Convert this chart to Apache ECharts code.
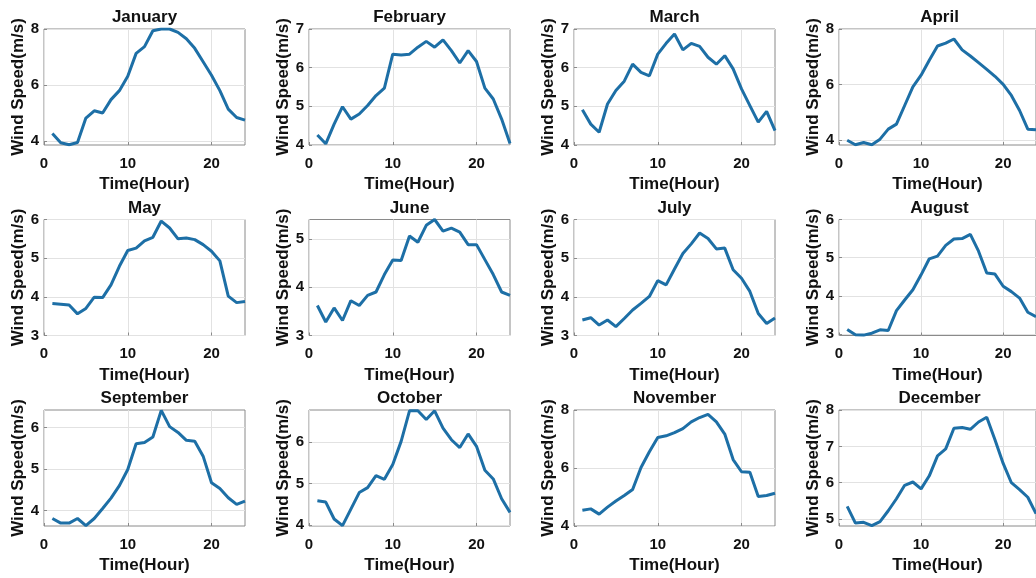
<!DOCTYPE html>
<html>
<head>
<meta charset="utf-8">
<title>Hourly wind speed by month</title>
<script src="https://cdn.jsdelivr.net/npm/echarts@6/dist/echarts.min.js"></script>
<style>
  html, body { margin: 0; padding: 0; background: #fff; }
  #chart { width: 1036px; height: 578px; }
</style>
</head>
<body>
<div id="chart"></div>
<script>
const hours = [1, 2, 3, 4, 5, 6, 7, 8, 9, 10, 11, 12, 13, 14, 15, 16, 17, 18, 19, 20, 21, 22, 23, 24];
const months = ['January', 'February', 'March', 'April', 'May', 'June',
  'July', 'August', 'September', 'October', 'November', 'December'];

// hourly mean wind speed (m/s)
const jan = [4.27, 3.94, 3.87, 3.95, 4.82, 5.08, 5.00, 5.48, 5.80, 6.31, 7.13, 7.37, 7.94, 8.00, 8.00, 7.88, 7.65, 7.31, 6.83, 6.35, 5.80, 5.14, 4.84, 4.75];
const feb = [4.26, 4.03, 4.54, 4.99, 4.67, 4.80, 5.02, 5.28, 5.47, 6.35, 6.33, 6.35, 6.53, 6.68, 6.53, 6.72, 6.44, 6.12, 6.44, 6.16, 5.47, 5.19, 4.67, 4.04];
const mar = [4.91, 4.54, 4.33, 5.06, 5.41, 5.65, 6.09, 5.88, 5.79, 6.35, 6.63, 6.87, 6.46, 6.63, 6.55, 6.27, 6.09, 6.31, 5.97, 5.45, 5.02, 4.59, 4.87, 4.37];
const apr = [4.00, 3.84, 3.92, 3.84, 4.04, 4.40, 4.58, 5.25, 5.92, 6.34, 6.88, 7.39, 7.49, 7.64, 7.25, 7.03, 6.79, 6.55, 6.30, 6.01, 5.61, 5.07, 4.40, 4.38];
const may = [3.83, 3.81, 3.79, 3.56, 3.70, 3.99, 3.98, 4.31, 4.79, 5.20, 5.26, 5.45, 5.54, 5.96, 5.78, 5.50, 5.52, 5.48, 5.35, 5.18, 4.93, 4.02, 3.85, 3.88];
const jun = [3.62, 3.28, 3.57, 3.31, 3.72, 3.62, 3.83, 3.90, 4.26, 4.56, 4.55, 5.06, 4.93, 5.28, 5.40, 5.16, 5.22, 5.14, 4.88, 4.88, 4.57, 4.26, 3.90, 3.83];
const jul = [3.40, 3.46, 3.27, 3.40, 3.23, 3.44, 3.66, 3.83, 4.01, 4.42, 4.31, 4.72, 5.12, 5.37, 5.65, 5.51, 5.24, 5.26, 4.70, 4.48, 4.14, 3.57, 3.31, 3.45];
const aug = [3.12, 2.98, 2.97, 3.02, 3.11, 3.09, 3.61, 3.89, 4.16, 4.55, 4.97, 5.04, 5.32, 5.49, 5.50, 5.61, 5.17, 4.60, 4.57, 4.25, 4.11, 3.94, 3.57, 3.45];
const sep = [3.81, 3.70, 3.70, 3.81, 3.64, 3.81, 4.05, 4.30, 4.60, 4.99, 5.61, 5.64, 5.77, 6.41, 6.02, 5.88, 5.69, 5.67, 5.31, 4.67, 4.53, 4.31, 4.15, 4.23];
const oct = [4.58, 4.55, 4.14, 3.98, 4.38, 4.78, 4.90, 5.19, 5.10, 5.46, 6.02, 6.76, 6.76, 6.55, 6.76, 6.34, 6.06, 5.87, 6.20, 5.90, 5.32, 5.11, 4.63, 4.30];
const nov = [4.54, 4.59, 4.41, 4.65, 4.86, 5.05, 5.26, 6.02, 6.56, 7.05, 7.11, 7.22, 7.36, 7.59, 7.74, 7.85, 7.59, 7.17, 6.29, 5.87, 5.85, 5.02, 5.05, 5.13];
const dec = [5.35, 4.89, 4.91, 4.82, 4.93, 5.23, 5.56, 5.93, 6.02, 5.83, 6.19, 6.74, 6.93, 7.50, 7.52, 7.47, 7.67, 7.80, 7.18, 6.53, 6.00, 5.81, 5.60, 5.15];
const speeds = [jan, feb, mar, apr, may, jun, jul, aug, sep, oct, nov, dec];

// axis limits and tick labels of each panel
const yMin = [3.86, 4, 4, 3.83, 3, 3, 3, 2.96, 3.63, 3.97, 4, 4.81];
const yMax = [8, 7, 7, 8, 6, 5.4, 6, 6, 6.42, 6.78, 8, 8];
const yTicks = [[4, 6, 8], [4, 5, 6, 7], [4, 5, 6, 7], [4, 6, 8],
  [3, 4, 5, 6], [3, 4, 5], [3, 4, 5, 6], [3, 4, 5, 6],
  [4, 5, 6], [4, 5, 6], [4, 6, 8], [5, 6, 7, 8]];
const xTicks = [0, 10, 20];

const colLeft = [44, 309, 574, 839];
const rowTop = [29, 219.5, 410];
const plotW = 201;
const plotH = 116;

const font = "'Liberation Sans', Arial, sans-serif";
const boxColor = '#8a8a8a';
const lineColor = '#1d6fa6';

const grids = [], xAxes = [], yAxes = [], titles = [], series = [];

months.forEach((m, i) => {
  const left = colLeft[i % 4];
  const top = rowTop[Math.floor(i / 4)];
  grids.push({
    left: left, top: top, width: plotW, height: plotH,
    show: true, borderColor: boxColor, borderWidth: 1, backgroundColor: '#fff'
  });
  titles.push({
    text: m, left: left + plotW / 2, top: top - 20, textAlign: 'center', padding: 0,
    textStyle: {fontFamily: font, fontSize: 17, fontWeight: 'bold', color: '#111'}
  });
  xAxes.push({
    type: 'value', gridIndex: i, min: 0, max: 24,
    name: 'Time(Hour)', nameLocation: 'middle', nameGap: 31,
    nameTextStyle: {fontFamily: font, fontSize: 17, fontWeight: 'bold', color: '#111'},
    axisLine: {show: false},
    axisTick: {show: true, inside: true, length: 3, lineStyle: {color: boxColor}, customValues: xTicks},
    axisLabel: {fontFamily: font, fontSize: 15, fontWeight: 'bold', color: '#111', margin: 11, customValues: xTicks},
    splitLine: {show: true, lineStyle: {color: '#e2e2e2', width: 1}}
  });
  yAxes.push({
    type: 'value', gridIndex: i, min: yMin[i], max: yMax[i],
    name: 'Wind Speed(m/s)', nameLocation: 'middle', nameGap: 15, nameRotate: 90,
    nameTextStyle: {fontFamily: font, fontSize: 17, fontWeight: 'bold', color: '#111'},
    axisLine: {show: false},
    axisTick: {show: true, inside: true, length: 3, lineStyle: {color: boxColor}, customValues: yTicks[i]},
    axisLabel: {fontFamily: font, fontSize: 15, fontWeight: 'bold', color: '#111', margin: 5, customValues: yTicks[i]},
    splitLine: {show: true, lineStyle: {color: '#e2e2e2', width: 1}}
  });
  series.push({
    type: 'line', xAxisIndex: i, yAxisIndex: i,
    data: hours.map((h, k) => [h, speeds[i][k]]),
    showSymbol: false, smooth: false, animation: false,
    lineStyle: {color: lineColor, width: 3}
  });
});

const chart = echarts.init(document.getElementById('chart'));
chart.setOption({
  backgroundColor: '#fff',
  animation: false,
  title: titles,
  grid: grids,
  xAxis: xAxes,
  yAxis: yAxes,
  series: series
});
window.addEventListener('resize', function () {
  chart.resize();
});
</script>
</body>
</html>
